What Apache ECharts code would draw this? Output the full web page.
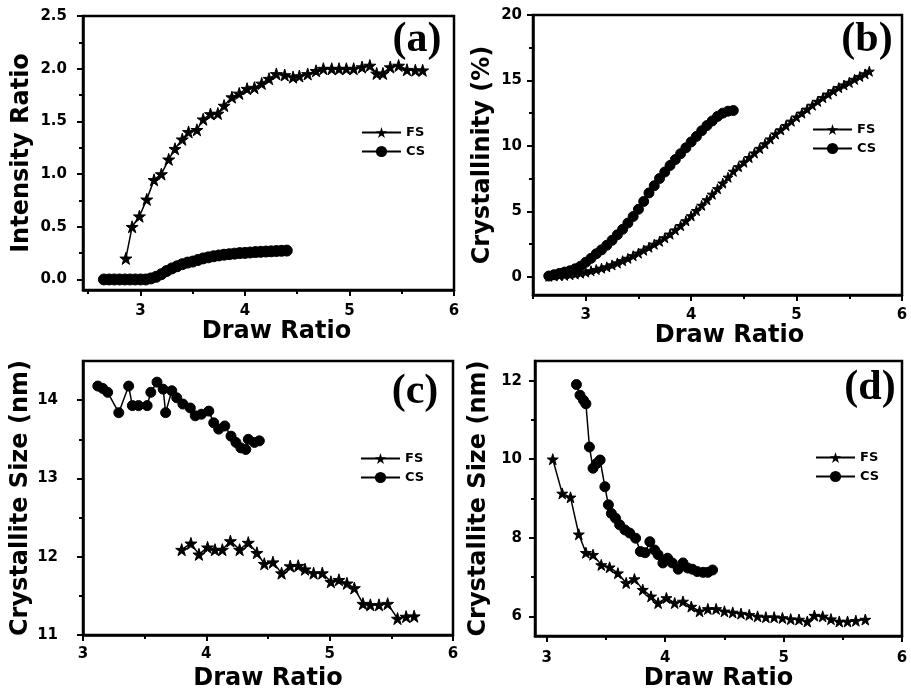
<!DOCTYPE html>
<html><head><meta charset="utf-8">
<script src="https://cdn.jsdelivr.net/npm/echarts@6/dist/echarts.min.js"></script>
<style>html,body{margin:0;padding:0;background:#fff}#c{width:911px;height:699px}</style>
</head><body><div id="c"></div>
<script>
// ---------------- data ----------------
// Panel (a): Intensity Ratio vs Draw Ratio
const aFsX = [2.86,2.92,2.99,3.06,3.13,3.20,3.27,3.33,3.40,3.46,3.54,3.60,3.67,3.74,3.80,3.875,3.945,4.02,4.09,4.16,4.23,4.30,4.38,4.46,4.52,4.60,4.68,4.75,4.83,4.90,4.97,5.04,5.12,5.195,5.26,5.32,5.39,5.47,5.55,5.63,5.70];
const aFsY = [0.20,0.50,0.60,0.76,0.945,1.00,1.14,1.24,1.33,1.40,1.42,1.52,1.57,1.575,1.65,1.73,1.765,1.81,1.82,1.86,1.905,1.95,1.94,1.92,1.93,1.95,1.98,2.00,2.00,2.00,2.00,2.00,2.015,2.03,1.955,1.955,2.015,2.03,1.99,1.985,1.985];
const aCsX = [2.65,2.70,2.75,2.80,2.85,2.90,2.95,3.00,3.05,3.10,3.15,3.20,3.25,3.30,3.35,3.40,3.45,3.50,3.55,3.60,3.65,3.70,3.75,3.80,3.85,3.90,3.95,4.00,4.05,4.10,4.15,4.20,4.25,4.30,4.35,4.40];
const aCsY = [0,0,0,0,0,0,0,0,0,0.01,0.025,0.05,0.08,0.105,0.125,0.145,0.16,0.17,0.185,0.20,0.21,0.22,0.228,0.235,0.24,0.245,0.25,0.252,0.256,0.26,0.262,0.265,0.267,0.27,0.272,0.274];

// Panel (b): Crystallinity (%) vs Draw Ratio
const bFsX = [2.65,2.70,2.75,2.80,2.85,2.90,2.95,3.00,3.05,3.10,3.15,3.20,3.25,3.30,3.35,3.40,3.45,3.50,3.55,3.60,3.65,3.70,3.75,3.80,3.85,3.90,3.95,4.00,4.05,4.10,4.15,4.20,4.25,4.30,4.35,4.40,4.45,4.50,4.55,4.60,4.65,4.70,4.75,4.80,4.85,4.90,4.95,5.00,5.05,5.10,5.15,5.20,5.25,5.30,5.35,5.40,5.45,5.50,5.55,5.60,5.65,5.69];
const bFsY = [0.03,0.05,0.08,0.10,0.15,0.20,0.27,0.35,0.45,0.55,0.65,0.75,0.90,1.05,1.22,1.40,1.60,1.80,2.02,2.25,2.48,2.70,2.97,3.25,3.57,3.90,4.27,4.65,5.05,5.45,5.87,6.30,6.72,7.15,7.60,8.05,8.40,8.75,9.10,9.45,9.80,10.15,10.52,10.90,11.22,11.55,11.88,12.20,12.50,12.80,13.10,13.40,13.68,13.95,14.20,14.45,14.65,14.85,15.08,15.30,15.50,15.70];
const bCsX = [2.65,2.70,2.75,2.80,2.85,2.90,2.95,3.00,3.05,3.10,3.15,3.20,3.25,3.30,3.35,3.40,3.45,3.50,3.55,3.60,3.65,3.70,3.75,3.80,3.85,3.90,3.95,4.00,4.05,4.10,4.15,4.20,4.25,4.30,4.35,4.40];
const bCsY = [0.05,0.15,0.25,0.35,0.45,0.60,0.80,1.10,1.40,1.75,2.05,2.40,2.78,3.20,3.62,4.10,4.60,5.15,5.75,6.40,6.95,7.50,8.00,8.50,8.95,9.40,9.85,10.30,10.72,11.15,11.55,11.90,12.25,12.50,12.65,12.70];

// Panel (c): Crystallite Size (nm) vs Draw Ratio
const cFsX = [3.80,3.875,3.94,4.01,4.07,4.13,4.195,4.27,4.34,4.41,4.47,4.54,4.61,4.68,4.745,4.80,4.87,4.94,5.01,5.075,5.14,5.20,5.27,5.33,5.40,5.47,5.55,5.62,5.685];
const cFsY = [12.09,12.17,12.03,12.12,12.09,12.09,12.20,12.09,12.18,12.05,11.91,11.93,11.79,11.88,11.885,11.84,11.79,11.79,11.68,11.705,11.66,11.60,11.40,11.385,11.385,11.40,11.21,11.235,11.24];
const cCsX = [3.12,3.16,3.20,3.29,3.37,3.40,3.45,3.52,3.55,3.60,3.65,3.67,3.72,3.76,3.81,3.87,3.91,3.96,4.02,4.06,4.10,4.15,4.20,4.24,4.28,4.32,4.34,4.39,4.43];
const cCsY = [14.18,14.15,14.10,13.84,14.18,13.93,13.93,13.93,14.10,14.23,14.14,13.84,14.12,14.03,13.95,13.90,13.80,13.82,13.86,13.71,13.63,13.67,13.54,13.46,13.39,13.37,13.50,13.46,13.48];

// Panel (d): Crystallite Size (nm) vs Draw Ratio
const dFsX = [3.05,3.13,3.20,3.27,3.33,3.39,3.46,3.53,3.60,3.67,3.74,3.81,3.88,3.94,4.01,4.08,4.15,4.22,4.29,4.36,4.43,4.50,4.57,4.64,4.71,4.78,4.85,4.92,4.99,5.06,5.13,5.20,5.26,5.33,5.40,5.47,5.54,5.61,5.69];
const dFsY = [10.0,9.13,9.03,8.09,7.62,7.57,7.31,7.25,7.10,6.85,6.95,6.68,6.51,6.34,6.47,6.34,6.38,6.25,6.13,6.19,6.19,6.13,6.10,6.07,6.04,6.00,5.98,5.98,5.96,5.93,5.92,5.87,6.02,6.00,5.93,5.87,5.87,5.89,5.92];
const dCsX = [3.25,3.28,3.31,3.33,3.36,3.39,3.42,3.45,3.49,3.52,3.545,3.58,3.615,3.66,3.70,3.75,3.79,3.83,3.87,3.91,3.94,3.98,4.02,4.06,4.11,4.15,4.19,4.23,4.27,4.32,4.36,4.40];
const dCsY = [11.9,11.63,11.5,11.41,10.31,9.77,9.89,9.98,9.30,8.84,8.62,8.50,8.33,8.20,8.12,7.99,7.65,7.62,7.90,7.69,7.57,7.36,7.48,7.36,7.20,7.36,7.23,7.20,7.14,7.12,7.12,7.18];

// tick labels
const xTicksA = [3,4,5,6];
const xTicksB = [3,4,5,6];
const xTicksC = [3,4,5,6];
const xTicksD = [3,4,5,6];
const yTicksA = [0,0.5,1.0,1.5,2.0,2.5];
const yTicksB = [0,5,10,15,20];
const yTicksC = [11,12,13,14];
const yTicksD = [6,8,10,12];

const yNames = ['Intensity Ratio','Crystallinity (%)','Crystallite Size (nm)','Crystallite Size (nm)'];
const xName = 'Draw Ratio';
const panelLabels = ['(a)','(b)','(c)','(d)'];
const seriesNames = ['FS','CS'];

// ---------------- layout / style ----------------
const FONT = 'DejaVu Sans';
const STAR = 'path://M50,0L61.2,35.4L97.6,35.4L68.2,57.3L79.4,90.5L50,70L20.6,90.5L31.8,57.3L2.4,35.4L38.8,35.4Z';
const zip = (xs, ys) => xs.map((x, i) => [x, ys[i]]);

const panels = [
  {grid:{left:83,top:16,width:371,height:274}, xMin:2.45, xMax:6, xMajor:xTicksA, xMinor:[2.5,3.5,4.5,5.5],
   yMin:-0.1, yMax:2.5, yMajor:yTicksA, yMinor:[0.25,0.75,1.25,1.75,2.25], yDig:1,
   yGap:49, xGap:27, xPad:16, yLM:16, xLM:14, lab:[417,40], leg:[361,126],
   fs:zip(aFsX,aFsY), cs:zip(aCsX,aCsY), star:12, circ:11},
  {grid:{left:533,top:15,width:369,height:280}, xMin:2.5, xMax:6, xMajor:xTicksB, xMinor:[2.5,3.5,4.5,5.5],
   yMin:-1.4, yMax:20, yMajor:yTicksB, yMinor:[2.5,7.5,12.5,17.5], yDig:0,
   yGap:38, xGap:24, xPad:24, yLM:11, xLM:13, lab:[867,40], leg:[812,123],
   fs:zip(bFsX,bFsY), cs:zip(bCsX,bCsY), star:10, circ:10},
  {grid:{left:83,top:361,width:370,height:274}, xMin:3, xMax:6, xMajor:xTicksC, xMinor:[3.5,4.5,5.5],
   yMin:11, yMax:14.5, yMajor:yTicksC, yMinor:[11.5,12.5,13.5], yDig:0,
   yGap:44, xGap:32, xPad:0, yLM:25, xLM:12, lab:[415,392], leg:[360,452],
   fs:zip(cFsX,cFsY), cs:zip(cCsX,cCsY), star:12, circ:10},
  {grid:{left:535,top:361,width:367,height:275}, xMin:2.9, xMax:6, xMajor:xTicksD, xMinor:[3.5,4.5,5.5],
   yMin:5.5, yMax:12.5, yMajor:yTicksD, yMinor:[7,9,11], yDig:0,
   yGap:44, xGap:27, xPad:0, yLM:13, xLM:15, lab:[870,388], leg:[815,451],
   fs:zip(dFsX,dFsY), cs:zip(dCsX,dCsY), star:11, circ:10}
];

const tickFont = {color:'#000', fontFamily:FONT, fontWeight:'bold', fontSize:15};
const nameFont = {color:'#000', fontFamily:FONT, fontWeight:'bold', fontSize:24};

const grid = [], xAxis = [], yAxis = [], series = [], legend = [], graphic = [];
panels.forEach((p, i) => {
  grid.push(Object.assign({show:true, borderColor:'#000', borderWidth:2.5, backgroundColor:'transparent'}, p.grid));
  xAxis.push({type:'value', gridIndex:i, min:p.xMin, max:p.xMax, position:'bottom',
    axisLine:{show:true, onZero:false, lineStyle:{color:'#000', width:2.5}},
    axisTick:{show:true, inside:false, length:6, lineStyle:{color:'#000', width:2}, customValues:p.xMajor},
    axisLabel:{show:true, customValues:p.xMajor, margin:p.xLM, formatter:v => String(v), ...tickFont},
    splitLine:{show:false},
    name:xName, nameLocation:'middle', nameGap:p.xGap,
    nameTextStyle:Object.assign({padding:[0,0,0,p.xPad]}, nameFont)});
  xAxis.push({type:'value', gridIndex:i, min:p.xMin, max:p.xMax, position:'bottom',
    axisLine:{show:false, onZero:false},
    axisTick:{show:true, inside:false, length:4, lineStyle:{color:'#000', width:2}, customValues:p.xMinor},
    axisLabel:{show:false}, splitLine:{show:false}});
  yAxis.push({type:'value', gridIndex:i, min:p.yMin, max:p.yMax, position:'left',
    axisLine:{show:true, onZero:false, lineStyle:{color:'#000', width:2.5}},
    axisTick:{show:true, inside:false, length:6, lineStyle:{color:'#000', width:2}, customValues:p.yMajor},
    axisLabel:{show:true, customValues:p.yMajor, margin:p.yLM, formatter:v => v.toFixed(p.yDig), ...tickFont},
    splitLine:{show:false},
    name:yNames[i], nameLocation:'middle', nameRotate:90, nameGap:p.yGap, nameTextStyle:nameFont});
  yAxis.push({type:'value', gridIndex:i, min:p.yMin, max:p.yMax, position:'left',
    axisLine:{show:false, onZero:false},
    axisTick:{show:true, inside:false, length:4, lineStyle:{color:'#000', width:2}, customValues:p.yMinor},
    axisLabel:{show:false}, splitLine:{show:false}});
  series.push({type:'line', name:seriesNames[0], xAxisIndex:2*i, yAxisIndex:2*i, data:p.fs,
    symbol:STAR, symbolSize:p.star, showAllSymbol:true,
    lineStyle:{color:'#000', width:1.5}, itemStyle:{color:'#000', borderColor:'#000'}, animation:false, z:3});
  series.push({type:'line', name:seriesNames[1], xAxisIndex:2*i, yAxisIndex:2*i, data:p.cs,
    symbol:'circle', symbolSize:p.circ, showAllSymbol:true,
    lineStyle:{color:'#000', width:1.5}, itemStyle:{color:'#000', borderColor:'#000'}, animation:false, z:3});
  legend.push({left:p.leg[0], top:p.leg[1], orient:'vertical', data:seriesNames, selectedMode:false,
    padding:0, itemWidth:39, itemHeight:14, itemGap:6,
    textStyle:{color:'#000', fontFamily:FONT, fontWeight:'bold', fontSize:13}});
  graphic.push({type:'text', x:p.lab[0], y:p.lab[1], z:10,
    style:{text:panelLabels[i], fill:'#000', font:'bold 42px "Liberation Serif"', align:'center', verticalAlign:'middle'}});
});

const chart = echarts.init(document.getElementById('c'), null, {renderer:'canvas'});
chart.setOption({backgroundColor:'#fff', animation:false, grid, xAxis, yAxis, series, legend, graphic});
</script>
</body></html>
